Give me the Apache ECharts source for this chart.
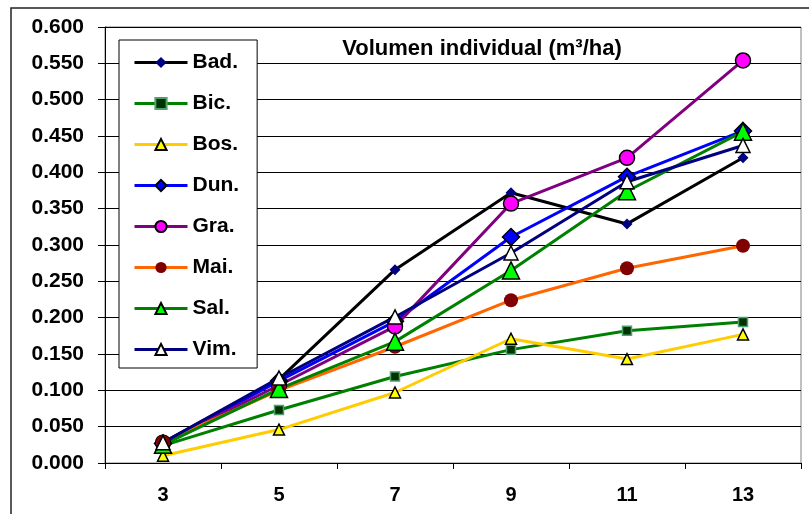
<!DOCTYPE html>
<html>
<head>
<meta charset="utf-8">
<script src="https://cdn.jsdelivr.net/npm/echarts@6/dist/echarts.min.js"></script>
<style>html,body{margin:0;padding:0;background:#fff;}#c{width:809px;height:514px;}</style>
</head>
<body>
<div id="c"></div>
<script>
const categories = ['3', '5', '7', '9', '11', '13'];
const bad = [0.028, 0.115, 0.266, 0.372, 0.329, 0.420];
const bic = [0.024, 0.073, 0.119, 0.156, 0.182, 0.194];
const bos = [0.010, 0.046, 0.097, 0.171, 0.143, 0.177];
const dun = [0.027, 0.113, 0.195, 0.311, 0.394, 0.457];
const gra = [0.028, 0.107, 0.188, 0.357, 0.420, 0.554];
const mai = [0.029, 0.100, 0.160, 0.224, 0.268, 0.299];
const sal = [0.025, 0.102, 0.167, 0.265, 0.374, 0.456];
const vim = [0.028, 0.117, 0.201, 0.289, 0.387, 0.437];
const yTicks = { min: 0, max: 0.6, interval: 0.05 };
const titleText = 'Volumen individual (m³/ha)';

const FONT = "'Liberation Sans', Arial, sans-serif";

function mk(name, data, lineColor, symbol, size, fill, border, bw) {
  return {
    name: name, type: 'line', data: data,
    symbol: symbol, symbolSize: size,
    lineStyle: { color: lineColor, width: 3 },
    itemStyle: { color: fill, borderColor: border, borderWidth: bw },
    color: lineColor,
    emphasis: { disabled: true },
    animation: false
  };
}

const chart = echarts.init(document.getElementById('c'), null, { renderer: 'canvas' });
chart.setOption({
  backgroundColor: '#ffffff',
  animation: false,
  grid: { left: 105, top: 27, width: 696, height: 436, show: true, borderColor: '#808080', borderWidth: 1, backgroundColor: 'transparent' },
  graphic: [
    { type: 'rect', shape: { x: 11, y: 8, width: 820, height: 530 }, style: { fill: 'none', stroke: '#222', lineWidth: 1.5 }, z: -10 },
    { type: 'text', x: 482, y: 49, style: { text: titleText, font: "bold 22px " + FONT, fill: '#000', textAlign: 'center', textVerticalAlign: 'middle' }, z: 100 }
  ],
  legend: {
    orient: 'vertical', left: 119, top: 40,
    padding: [12, 18, 8, 14],
    itemWidth: 53, itemHeight: 14, itemGap: 20,
    borderColor: '#000', borderWidth: 1, backgroundColor: '#fff',
    lineStyle: { width: 3 },
    textStyle: { fontFamily: FONT, fontWeight: 'bold', fontSize: 21, color: '#000' },
    data: ['Bad.', 'Bic.', 'Bos.', 'Dun.', 'Gra.', 'Mai.', 'Sal.', 'Vim.']
  },
  xAxis: {
    type: 'category', data: categories, boundaryGap: true,
    axisLine: { lineStyle: { color: '#000', width: 1 } },
    axisTick: { show: true, length: 6, lineStyle: { color: '#000' } },
    axisLabel: { margin: 22, fontFamily: FONT, fontWeight: 'bold', fontSize: 20, color: '#000' },
    splitLine: { show: false }
  },
  yAxis: {
    type: 'value', min: yTicks.min, max: yTicks.max, interval: yTicks.interval,
    axisLine: { show: true, lineStyle: { color: '#000', width: 1 } },
    axisTick: { show: true, length: 7, lineStyle: { color: '#000' } },
    axisLabel: { margin: 21, fontFamily: FONT, fontWeight: 'bold', fontSize: 21, color: '#000', formatter: v => v.toFixed(3) },
    splitLine: { show: true, lineStyle: { color: '#000', width: 1 } }
  },
  series: [
    mk('Bad.', bad, '#000000', 'diamond', 11, '#000080', '#000080', 0),
    mk('Bic.', bic, '#008000', 'rect', 9, '#003300', '#4f9f6f', 1.5),
    mk('Bos.', bos, '#FFCC00', 'triangle', 11, '#FFFF00', '#000', 1.5),
    mk('Dun.', dun, '#0000FF', 'diamond', 17, '#0000FF', '#000', 1.5),
    mk('Gra.', gra, '#800080', 'circle', 15, '#FF00FF', '#000', 1.5),
    mk('Mai.', mai, '#FF6600', 'circle', 14, '#800000', '#800000', 0),
    mk('Sal.', sal, '#008000', 'triangle', 17, '#00FF00', '#000', 1.5),
    mk('Vim.', vim, '#000080', 'triangle', 14, '#FFFFFF', '#000', 1.5)
  ]
});
</script>
</body>
</html>
